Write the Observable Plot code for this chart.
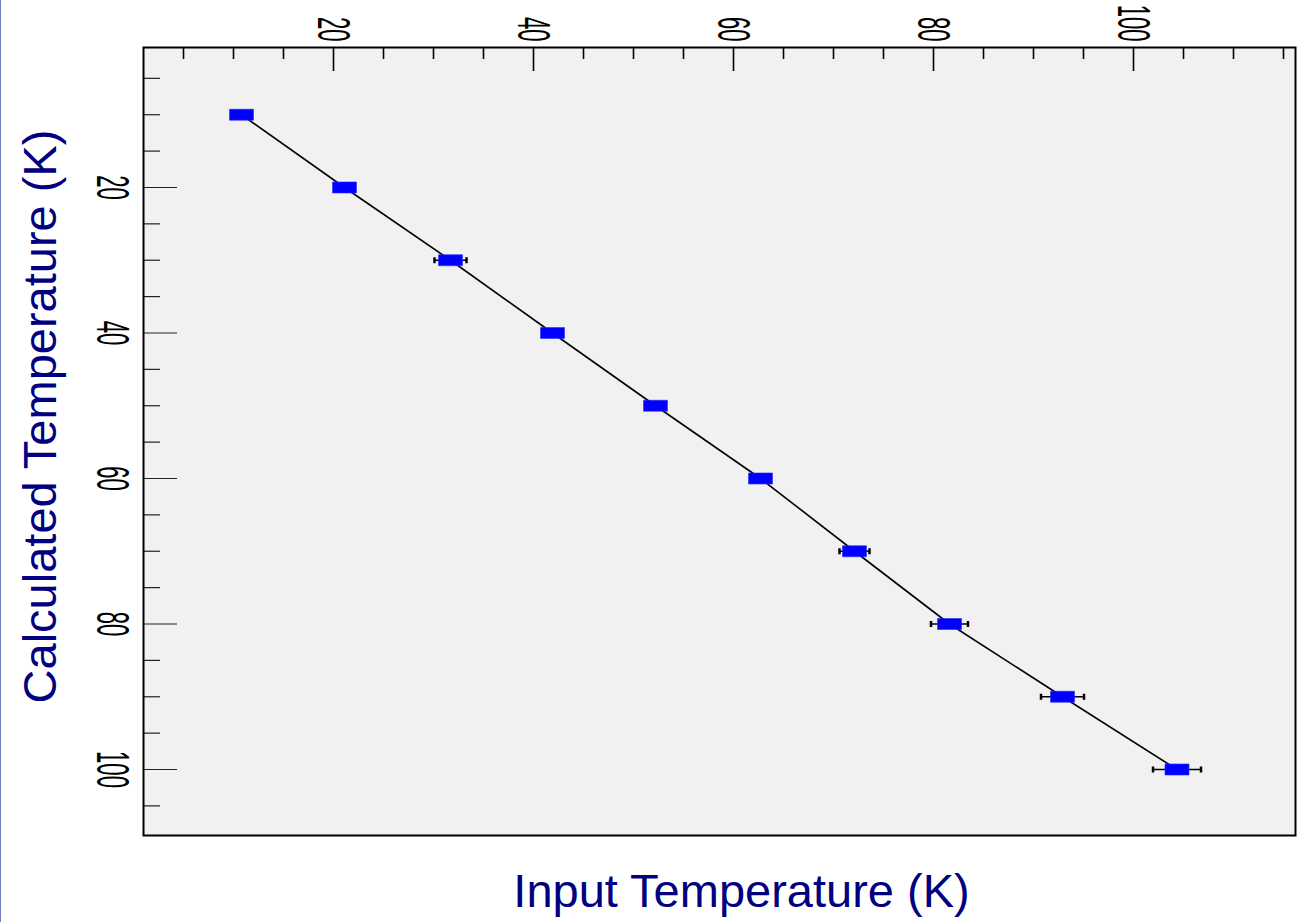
<!DOCTYPE html>
<html>
<head>
<meta charset="utf-8">
<script src="https://cdn.jsdelivr.net/npm/d3@7"></script>
<script src="https://cdn.jsdelivr.net/npm/@observablehq/plot@0.6"></script>
<style>
  html, body { margin: 0; padding: 0; background: #ffffff; }
  #wrap { position: relative; width: 1297px; height: 922px; overflow: hidden; }
  #edge { position: absolute; left: 0; top: 0; width: 1px; height: 922px; background: #6f7cc0; }
</style>
</head>
<body>
<div id="wrap"><div id="edge"></div></div>
<script>
// Values
const calculatedTemps = [10, 20, 30, 40, 50, 60, 70, 80, 90, 100];          // vertical axis
const inputTemps      = [10.8, 21.1, 31.7, 41.9, 52.2, 62.7, 72.1, 81.6, 92.9, 104.35]; // horizontal axis
const inputErrors     = [0.8, 0.9, 1.6, 1.0, 0.9, 1.0, 1.5, 1.85, 2.15, 2.4];
const xMajorTicks = [20, 40, 60, 80, 100];
const xMinorTicks = [5, 10, 15, 25, 30, 35, 45, 50, 55, 65, 70, 75, 85, 90, 95, 105, 110, 115];
const yMajorTicks = [20, 40, 60, 80, 100];
const yMinorTicks = [5, 10, 15, 25, 30, 35, 45, 50, 55, 65, 70, 75, 85, 90, 95, 105];
const xTitle = "Input Temperature (K)";
const yTitle = "Calculated Temperature (K)";

const data = calculatedTemps.map((c, i) => ({calc: c, input: inputTemps[i], err: inputErrors[i]}));

const W = 1297, H = 922;
const mL = 143, mR = 2, mT = 47, mB = 87;
const frameW = W - mL - mR, frameH = H - mT - mB;

const capSymbol = {draw(ctx) { ctx.moveTo(0, -3); ctx.lineTo(0, 3); }};
const boxSymbol = {draw(ctx) { ctx.rect(-12, -5.5, 24, 11); }};

const tickFont = "Liberation Sans, Arial, Helvetica, sans-serif";

const plot = Plot.plot({
  width: W, height: H,
  marginLeft: mL, marginRight: mR, marginTop: mT, marginBottom: mB,
  style: {fontFamily: tickFont, background: "transparent", overflow: "visible"},
  x: {domain: [1.0, 116.2]},
  y: {domain: [0.76, 109.07], reverse: true},
  marks: [
    Plot.frame({fill: "#f1f1f1", stroke: null}),
    // inward ticks on the top axis
    Plot.ruleX(xMajorTicks, {x: d => d, insetBottom: frameH - 24, stroke: "black", strokeWidth: 1.6}),
    Plot.ruleX(xMinorTicks, {x: d => d, insetBottom: frameH - 12, stroke: "black", strokeWidth: 1.6}),
    // inward ticks on the left axis
    Plot.ruleY(yMajorTicks, {y: d => d, insetRight: frameW - 34, stroke: "#222", strokeWidth: 1.2}),
    Plot.ruleY(yMinorTicks, {y: d => d, insetRight: frameW - 17, stroke: "#222", strokeWidth: 1.2}),
    Plot.axisX({anchor: "top", ticks: xMajorTicks, tickSize: 0, tickPadding: 6, tickRotate: 90,
                textAnchor: "end", lineAnchor: "middle", fontSize: 47, label: null}),
    Plot.axisY({anchor: "left", ticks: yMajorTicks, tickSize: 0, tickPadding: 31, tickRotate: 90,
                textAnchor: "middle", lineAnchor: "middle", fontSize: 47, label: null}),
    Plot.line(data, {x: "input", y: "calc", stroke: "black", strokeWidth: 1.6}),
    Plot.ruleY(data, {y: "calc", x1: d => d.input - d.err, x2: d => d.input + d.err, stroke: "black", strokeWidth: 1.5}),
    Plot.dot(data, {x: d => d.input - d.err, y: "calc", symbol: capSymbol, stroke: "black", strokeWidth: 2.5, fill: "none"}),
    Plot.dot(data, {x: d => d.input + d.err, y: "calc", symbol: capSymbol, stroke: "black", strokeWidth: 2.5, fill: "none"}),
    Plot.dot(data, {x: "input", y: "calc", symbol: boxSymbol, fill: "#0000ff", stroke: "#2a2aff", strokeWidth: 0.6}),
    Plot.frame({stroke: "black", strokeWidth: 2}),
    Plot.text([xTitle], {frameAnchor: "bottom", dx: 22, dy: 71, lineAnchor: "bottom", textAnchor: "middle",
                         fontSize: 47, fill: "#000080", fontFamily: tickFont}),
    Plot.text([yTitle], {frameAnchor: "left", dx: -88, dy: -25, rotate: -90, lineAnchor: "bottom", textAnchor: "middle",
                         fontSize: 47, fill: "#000080", fontFamily: tickFont})
  ]
});

// condense the rotated tick labels (narrow, tall glyphs as in the reference)
plot.querySelectorAll('g[aria-label="x-axis tick label"] text, g[aria-label="y-axis tick label"] text').forEach(t => {
  const tr = t.getAttribute("transform") || "";
  t.setAttribute("transform", tr + " scale(0.47,1)");
  t.setAttribute("fill", "black");
});

plot.style.position = "absolute";
plot.style.left = "0px";
plot.style.top = "0px";
document.getElementById("wrap").appendChild(plot);
</script>
</body>
</html>
